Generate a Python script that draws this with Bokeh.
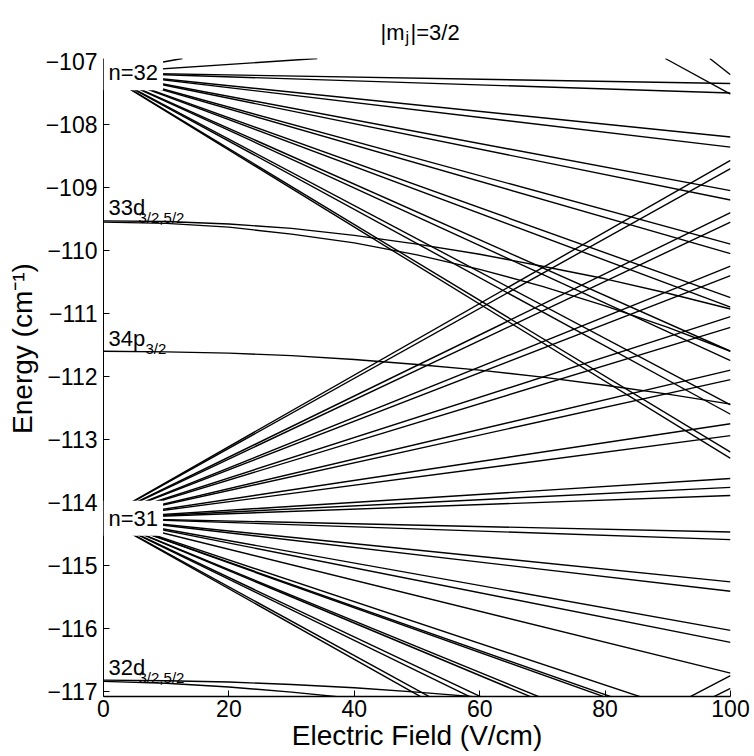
from bokeh.plotting import figure
from bokeh.models import Label, Range1d, FixedTicker, BoxAnnotation
from bokeh.embed import file_html
from bokeh.resources import INLINE

FONT = "Liberation Sans"
F_MAX = 100.0
E_BOTTOM = -117.08      # lower edge of the plotted energy window
E_TOP = -106.953        # upper edge of the plotted energy window

# zero-field energies of the hydrogenic manifolds (cm^-1)
n32_origin = -107.18
n31_origin = -114.25
n30_origin = -121.93

# n=32 states rising out of the window: field (V/cm) where they reach its upper edge
n32_up_exit_F = [12.6, 34.1]
# energies reached at F = 100 V/cm by the (diabatic) Stark lines
n32_ends = [-107.35, -107.50, -108.20, -108.36, -109.05, -109.20,
            -109.90, -110.05, -110.75, -110.90, -111.60, -111.75, -112.45, -112.60,
            -113.20, -113.30]
n31_up_ends = [-108.57, -108.70, -109.40, -109.55, -110.25, -110.40, -111.05, -111.22,
               -111.90, -112.05, -112.75, -112.94, -113.62, -113.76, -113.89]
n31_down_ends = [-114.47, -114.59, -115.26, -115.41, -116.03, -116.22, -116.71, -117.56,
                 -117.75, -117.80, -118.33, -118.41, -118.96, -119.10, -119.70, -119.85]
n30_ends = [-116.75, -116.95]
# lowest n=33 states entering from the top: field where they enter, energy at F = 100
n33_entry_F = [89.6, 96.7]
n33_ends = [-107.52, -107.21]

# low-l states (curved), sampled along the field axis
low_l_F = [0, 10, 20, 30, 40, 50, 60, 70, 80, 90, 100]
d33_a_E = [-109.53, -109.54, -109.58, -109.65, -109.76, -109.90, -110.06, -110.25, -110.45, -110.68, -110.93]
d33_b_E = [-109.55, -109.57, -109.63, -109.74, -109.88, -110.07, -110.30, -110.57, -110.88, -111.22, -111.60]
p34_E = [-111.60, -111.61, -111.63, -111.67, -111.73, -111.81, -111.90, -112.01, -112.14, -112.28, -112.44]
d32_F = [0, 10, 20, 30, 40, 50, 60]
d32_a_E = [-116.82, -116.83, -116.85, -116.89, -116.94, -117.01, -117.09]
d32_b_E = [-116.84, -116.87, -116.93, -117.01, -117.11, -117.20, -117.30]

y_ticks = [-117, -116, -115, -114, -113, -112, -111, -110, -109, -108, -107]
x_ticks = [0, 20, 40, 60, 80, 100]

PX_PER_UNIT = 63.0
FRAME_H = 696
y_top = E_BOTTOM + FRAME_H / PX_PER_UNIT   # frame extends above the data window to hold the title

p = figure(width=754, height=756, output_backend="svg", toolbar_location=None,
           title=None,
           x_range=Range1d(0, 100), y_range=Range1d(E_BOTTOM, y_top),
           min_border_left=103, min_border_right=24, min_border_top=0, min_border_bottom=60)
p.outline_line_color = None
p.xgrid.visible = False
p.ygrid.visible = False

LW = 1.4
xs, ys = [], []
for fx in n32_up_exit_F:
    xs.append([0, fx]); ys.append([n32_origin, E_TOP])
for e in n32_ends:
    xs.append([0, F_MAX]); ys.append([n32_origin, e])
for e in n31_up_ends + n31_down_ends:
    xs.append([0, F_MAX]); ys.append([n31_origin, e])
for e in n30_ends:
    xs.append([0, F_MAX]); ys.append([n30_origin, e])
for fx, e in zip(n33_entry_F, n33_ends):
    xs.append([fx, F_MAX]); ys.append([E_TOP, e])
p.multi_line(xs, ys, line_color="black", line_width=LW)

for E in [d33_a_E, d33_b_E, p34_E]:
    p.line(low_l_F, E, line_color="black", line_width=LW)
for E in [d32_a_E, d32_b_E]:
    p.line(d32_F, E, line_color="black", line_width=LW)

# white mask above the energy window (where the title sits)
p.add_layout(BoxAnnotation(bottom=E_TOP, fill_color="white", fill_alpha=1.0, line_color=None))

# axes
for ax in [p.xaxis[0], p.yaxis[0]]:
    ax.major_tick_in = 6
    ax.major_tick_out = 0
    ax.minor_tick_line_color = None
    ax.axis_line_color = "black"
    ax.major_tick_line_color = "black"
    ax.major_label_text_font = FONT
    ax.major_label_text_font_size = "23px"
    ax.major_label_text_color = "black"
    ax.axis_label_text_font = FONT
    ax.axis_label_text_font_size = "28px"
    ax.axis_label_text_font_style = "normal"
    ax.axis_label_text_color = "black"

p.yaxis.bounds = (E_BOTTOM, E_TOP)
p.xaxis.ticker = FixedTicker(ticks=x_ticks)
p.yaxis.ticker = FixedTicker(ticks=y_ticks)
p.yaxis.major_label_overrides = {tk: "\u2212" + str(abs(tk)) for tk in y_ticks}
p.xaxis.axis_label = "Electric Field (V/cm)"
p.yaxis.axis_label = "Energy (cm\u207b\u00b9)"
p.xaxis.major_label_standoff = 3
p.xaxis.axis_label_standoff = 0
p.yaxis.major_label_standoff = 6
p.yaxis.axis_label_standoff = 5
p.xaxis.axis_line_width = 1.5
p.yaxis.axis_line_width = 1


def lab(x, y, text, size, xo=0, yo=0, bg=None, baseline="alphabetic", units="data"):
    kw = dict(x=x, y=y, text=text, x_offset=xo, y_offset=yo,
              x_units=units, y_units=units,
              text_font=FONT, text_font_size=size, text_color="black",
              text_align="left", text_baseline=baseline)
    if bg:
        kw.update(background_fill_color=bg, padding=5)
    p.add_layout(Label(**kw))


# manifold labels with white boxes hiding the origin of the fans
lab(0.0, n32_origin, "n=32", "22px", bg="white", baseline="middle")
lab(0.0, n31_origin, "n=31", "22px", bg="white", baseline="middle")

# low-l state labels
lab(0.8, d33_a_E[0], "33d", "22px", yo=13)
lab(0.8, d33_a_E[0], "3/2,5/2", "15px", xo=30, yo=3)
lab(0.8, p34_E[0], "34p", "22px", yo=13)
lab(0.8, p34_E[0], "3/2", "15px", xo=37, yo=3)
lab(0.8, d32_a_E[0], "32d", "22px", yo=13)
lab(0.8, d32_a_E[0], "3/2,5/2", "15px", xo=30, yo=3)

# title |m_j|=3/2 (screen units, measured from the frame's lower-left corner)
lab(277, 664, "|m", "22px", units="screen")
lab(277, 664, "j", "16px", xo=25, yo=-5, units="screen")
lab(277, 664, "|=3/2", "22px", xo=30, units="screen")

open("out.html", "w").write(file_html(p, INLINE))
